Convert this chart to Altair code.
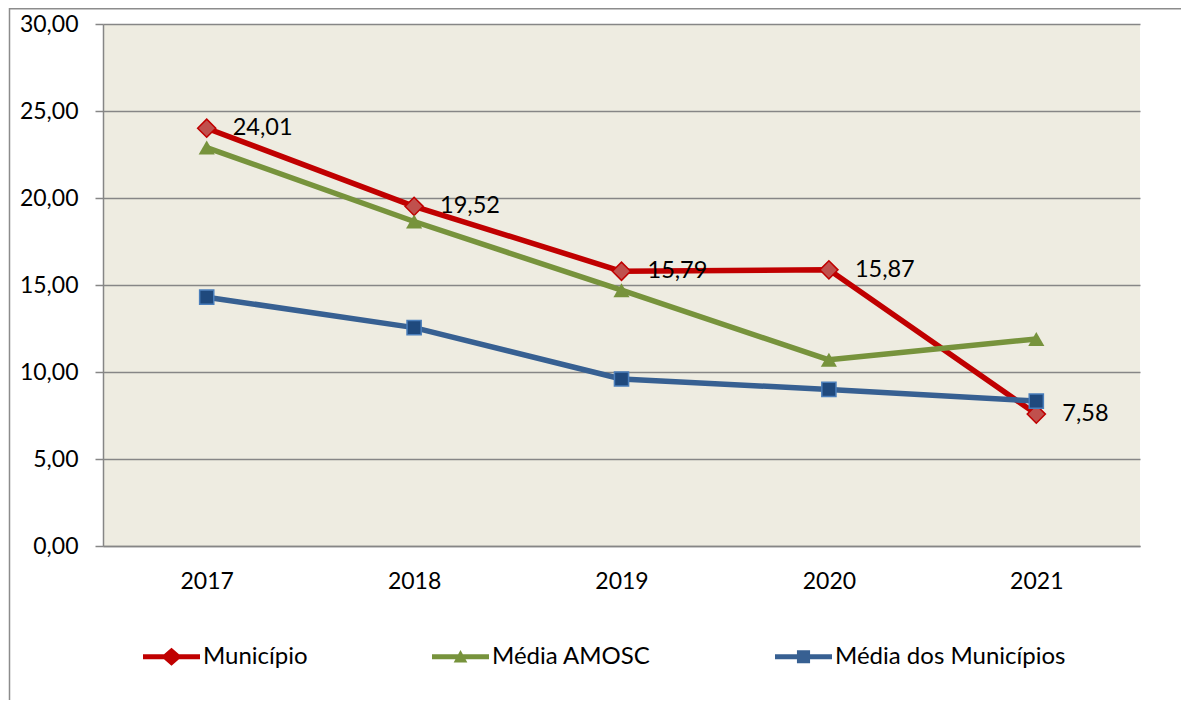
import altair as alt
import pandas as pd

anos = ['2017', '2018', '2019', '2020', '2021']
municipio = [24.01, 19.52, 15.79, 15.87, 7.58]
media_amosc = [22.9, 18.65, 14.7, 10.7, 11.9]
media_municipios = [14.3, 12.55, 9.6, 9.0, 8.33]
series = ['Município', 'Média AMOSC', 'Média dos Municípios']
y_ticks = [0, 5, 10, 15, 20, 25, 30]

rows = []
for s, vals in zip(series, [municipio, media_amosc, media_municipios]):
    for a, v in zip(anos, vals):
        rows.append({'ano': a, 'serie': s, 'valor': v})
df = pd.DataFrame(rows)

line_colors = ['#C00000', '#77933C', '#376092']
FONT = 'Lato'
GRID = '#868686'

# legend symbols: line segment + marker (paths within -1..1 box)
legend_paths = [
    'M-1,-0.088 L-0.263,-0.088 L0,-0.316 L0.263,-0.088 L1,-0.088 L1,0.088 L0.263,0.088 L0,0.316 L-0.263,0.088 L-1,0.088 Z',
    'M-1,-0.088 L1,-0.088 L1,0.088 L-1,0.088 Z M0,-0.24 L0.24,0.2 L-0.24,0.2 Z',
    'M-1,-0.088 L1,-0.088 L1,0.088 L-1,0.088 Z M-0.23,-0.23 L0.23,-0.23 L0.23,0.23 L-0.23,0.23 Z',
]

x_enc = alt.X('ano:O', scale=alt.Scale(type='point', padding=0.5),
              axis=alt.Axis(title=None, labelAngle=0, ticks=False, tickSize=0, labelPadding=24,
                            labelFontSize=23, labelFont=FONT, labelColor='black',
                            domainColor=GRID, domainWidth=1.5, grid=False))
y_enc = alt.Y('valor:Q', scale=alt.Scale(domain=[0, 30], nice=False, zero=True),
              axis=alt.Axis(title=None, values=y_ticks,
                            labelExpr="replace(format(datum.value, '.2f'), '.', ',')",
                            grid=True, gridColor=GRID, gridWidth=1.5,
                            tickColor=GRID, tickWidth=1.5, tickSize=8, labelPadding=17,
                            labelFontSize=23, labelFont=FONT, labelColor='black',
                            domainColor=GRID, domainWidth=1.5))

base = alt.Chart(df)

# line colour scale given in reversed order so its (disabled) legend is not merged with the real one
lines = base.mark_line(strokeWidth=5.5, strokeCap='round', strokeJoin='round').encode(
    x=x_enc, y=y_enc,
    color=alt.Color('serie:N', scale=alt.Scale(domain=series[::-1], range=line_colors[::-1]),
                    legend=None),
)

m1 = base.transform_filter(alt.datum.serie == 'Município').mark_point(
    shape='diamond', size=330, filled=True, fill='#C0504D', stroke='#C00000',
    strokeWidth=1.5, opacity=1).encode(x=x_enc, y=y_enc)
m2 = base.transform_filter(alt.datum.serie == 'Média AMOSC').mark_point(
    shape='triangle-up', size=260, filled=True, fill='#77933C', opacity=1).encode(x=x_enc, y=y_enc)
m3 = base.transform_filter(alt.datum.serie == 'Média dos Municípios').mark_point(
    shape='square', size=200, filled=True, fill='#1F497D', stroke='#4A7EBB',
    strokeWidth=1.5, opacity=1).encode(x=x_enc, y=y_enc)

labels = base.transform_filter(alt.datum.serie == 'Município').transform_calculate(
    rot="replace(format(datum.valor, '.2f'), '.', ',')"
).mark_text(align='left', baseline='middle', dx=26, fontSize=23.5, font=FONT, color='black').encode(
    x=x_enc, y=y_enc, text='rot:N')

legend_props = dict(orient='none', legendX=40, legendY=604, direction='horizontal', columns=3,
                    title=None, labelFont=FONT, labelFontSize=24, labelColor='black',
                    labelOffset=3, labelLimit=400, columnPadding=124, symbolSize=3249,
                    symbolStrokeWidth=0, symbolOpacity=1, padding=0)

leg = base.mark_point(filled=True, opacity=0).encode(
    x=x_enc, y=y_enc,
    fill=alt.Fill('serie:N', scale=alt.Scale(domain=series, range=line_colors),
                  legend=alt.Legend(**legend_props)),
    shape=alt.Shape('serie:N', scale=alt.Scale(domain=series, range=legend_paths),
                    legend=alt.Legend(**legend_props)),
)

frame_df = pd.DataFrame({'k': [0]})
frame_left = alt.Chart(frame_df).mark_rule(color='#8C8C8C', strokeWidth=1.5).encode(
    x=alt.value(-93.5), y=alt.value(-16), y2=alt.value(700))
frame_top = alt.Chart(frame_df).mark_rule(color='#8C8C8C', strokeWidth=1.5).encode(
    x=alt.value(-94), x2=alt.value(1200), y=alt.value(-15.25))

chart = alt.layer(frame_left, frame_top, lines, m1, m2, m3, labels, leg).properties(
    width=1037, height=522,
    autosize=alt.AutoSizeParams(type='none'),
    padding={'left': 95, 'top': 16, 'right': 41, 'bottom': 154},
    view=alt.ViewBackground(fill='#EEECE1', strokeWidth=0),
)

chart.save('out.html', embed_options={'renderer': 'svg', 'actions': False})
